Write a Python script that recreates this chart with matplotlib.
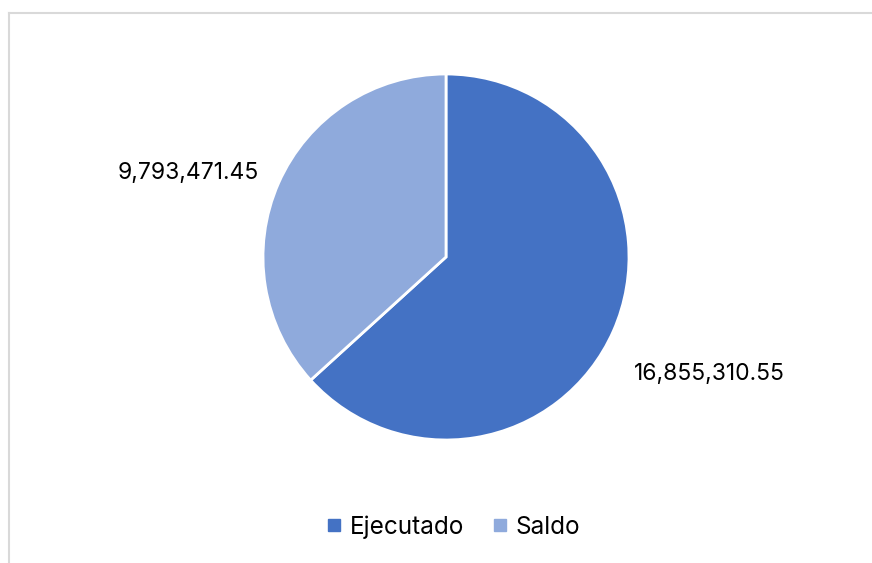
import numpy as np
import matplotlib
matplotlib.use('Agg')
import matplotlib.pyplot as plt
from matplotlib.lines import Line2D

# data
categories = ["Ejecutado", "Saldo"]
values = [16855310.55, 9793471.45]
value_labels = ["16,855,310.55", "9,793,471.45"]
colors = ["#4472C4", "#8FAADC"]

plt.rcParams['font.family'] = ['Inter', 'DejaVu Sans']

W, H = 872, 563
fig = plt.figure(figsize=(W / 100, H / 100), dpi=100)

# pie centre / radius in pixels
cx, cy, r = 446, H - 257, 183
half_w, half_h = 400, 250
ax = fig.add_axes([(cx - half_w) / W, (cy - half_h) / H, 2 * half_w / W, 2 * half_h / H])

wedges, texts = ax.pie(values, colors=colors, startangle=90, counterclock=False,
                       labels=value_labels, labeldistance=1.575,
                       wedgeprops=dict(edgecolor='white', linewidth=2),
                       textprops=dict(fontsize=16.5, color='black'))
for t in texts:
    t.set_ha('center')
    t.set_va('center')

# nudge the Saldo label a bit (best-fit placement in the original)
ang = np.deg2rad(162)
texts[1].set_position((1.48 * np.cos(ang), 1.48 * np.sin(ang)))

ax.set_xlim(-half_w / r, half_w / r)
ax.set_ylim(-half_h / r, half_h / r)
ax.set_aspect('auto')
ax.axis('off')

# light chart-area frame (top and left edges visible)
fig.add_artist(Line2D([8.5 / W, 1], [1 - 12.5 / H, 1 - 12.5 / H], color='#D9D9D9', lw=1.5))
fig.add_artist(Line2D([8.5 / W, 8.5 / W], [0, 1 - 12.5 / H], color='#D9D9D9', lw=1.5))

handles = [Line2D([], [], marker='s', linestyle='', markersize=8, color=c) for c in colors]
fig.legend(handles, categories, loc='center', bbox_to_anchor=(451 / W, 1 - 527 / H),
           ncol=2, frameon=False, fontsize=17.5, handletextpad=0.15, columnspacing=0.95,
           handlelength=1.0)

fig.savefig('out.png', dpi=100)
